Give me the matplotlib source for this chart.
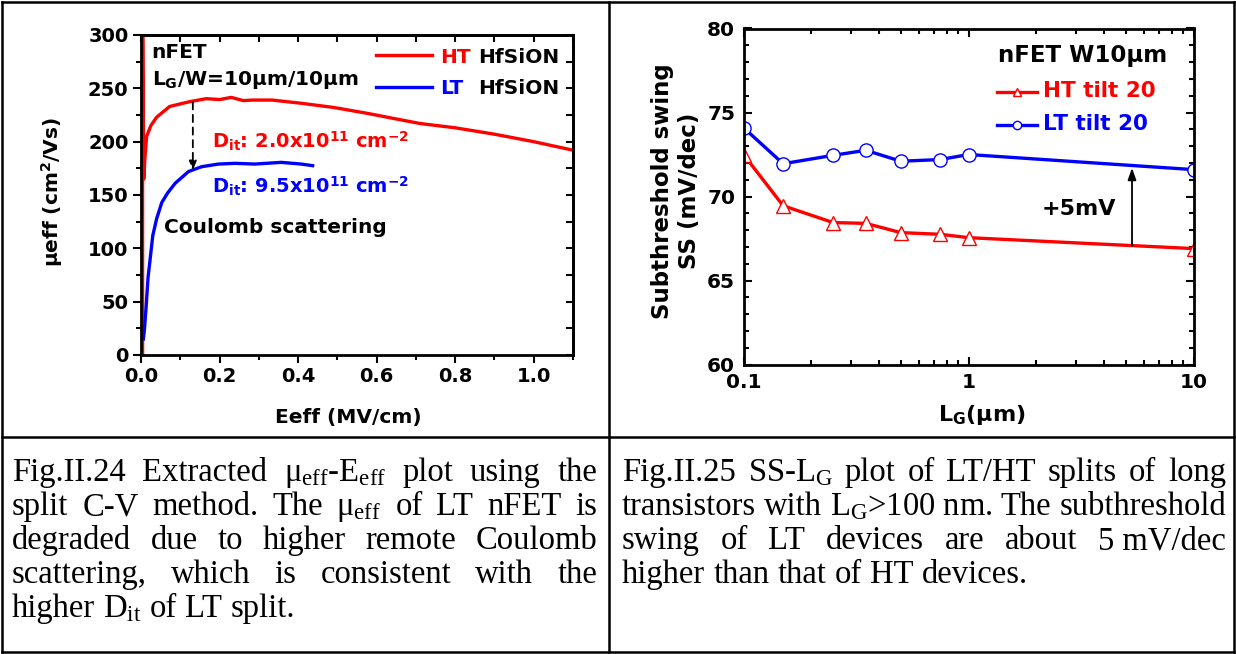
"""
plot.py - mobility / subthreshold swing figure pair with captions.
"""
import matplotlib
matplotlib.use('Agg')
import matplotlib.pyplot as plt
from matplotlib.lines import Line2D
from matplotlib.ticker import MultipleLocator, LogLocator, NullFormatter

W_PX, H_PX = 1236, 654

# --- Fig.II.24 : mobility vs effective field ---
HT_E = [0.004, 0.004, 0.007, 0.01, 0.0144, 0.025, 0.04, 0.073, 0.124, 0.166, 0.2,
        0.23, 0.26, 0.284, 0.334, 0.408, 0.492, 0.577, 0.661, 0.711, 0.8, 0.9, 1.0, 1.1]
HT_MU = [0, 330, 165, 185, 205, 215, 223, 233, 237.5, 240.3, 239.5,
         241.5, 238.5, 239, 239, 236, 232, 226.5, 220.5, 217, 213, 207, 200, 192]
LT_E = [0.006, 0.009, 0.013, 0.018, 0.023, 0.03, 0.04, 0.053, 0.068, 0.087, 0.121,
        0.154, 0.197, 0.239, 0.29, 0.357, 0.408, 0.437]
LT_MU = [15, 25, 45, 73, 89, 112, 128, 143, 152, 161, 172,
         176.5, 179, 179.7, 179, 180.6, 179, 177.5]

# --- Fig.II.25 : SS vs gate length ---
LG = [0.1, 0.15, 0.25, 0.35, 0.5, 0.75, 1, 10]
SS_HT = [72.5, 69.45, 68.45, 68.4, 67.85, 67.75, 67.55, 66.9]
SS_LT = [74.1, 71.95, 72.45, 72.75, 72.1, 72.2, 72.5, 71.6]

CAPTION_LEFT = [
    r"Fig.II.24 Extracted μ$_{\mathrm{eff}}$-E$_{\mathrm{eff}}$ plot using the",
    r"split C-V method. The μ$_{\mathrm{eff}}$ of LT nFET is",
    "degraded due to higher remote Coulomb",
    "scattering, which is consistent with the",
    r"higher D$_{\mathrm{it}}$ of LT split.",
]
CAPTION_RIGHT = [
    r"Fig.II.25 SS-L$_{\mathrm{G}}$ plot of LT/HT splits of long",
    r"transistors with L$_{\mathrm{G}}$>100~nm. The subthreshold",
    "swing of LT devices are about 5~mV/dec",
    "higher than that of HT devices.",
]

plt.rcParams['font.family'] = ['DejaVu Sans']
plt.rcParams['mathtext.fontset'] = 'custom'
plt.rcParams['mathtext.rm'] = 'Liberation Serif'
plt.rcParams['mathtext.it'] = 'Liberation Serif:italic'
plt.rcParams['mathtext.bf'] = 'DejaVu Sans:bold'
plt.rcParams['mathtext.sf'] = 'DejaVu Sans'


def fx(px):
    return px / W_PX


def fy(py):
    return 1 - py / H_PX


def justify_line(fig, line, x0, x1, y, last=False, **kw):
    """Place words of one caption line so they fill x0..x1 (pixels)."""
    words = [w.replace('~', ' ') for w in line.split(' ')]
    renderer = fig.canvas.get_renderer()
    texts = [fig.text(0, fy(y), w, va='baseline', ha='left', **kw) for w in words]
    widths = [t.get_window_extent(renderer).width for t in texts]
    if last:
        gap = kw.get('fontsize', 16) * 100 / 72 * 0.25
    else:
        gap = ((x1 - x0) - sum(widths)) / (len(words) - 1)
    x = x0
    for t, w in zip(texts, widths):
        t.set_x(fx(x))
        x += w + gap


fig = plt.figure(figsize=(W_PX / 100, H_PX / 100), dpi=100)
fig.patch.set_facecolor('white')

# ---------------- left plot ----------------
ax1 = fig.add_axes([fx(141), fy(355), 432 / W_PX, 320 / H_PX])
ax1.plot(HT_E, HT_MU, color='#ff0000', lw=2.4)
ax1.plot(LT_E, LT_MU, color='#0000ff', lw=2.4)
ax1.set_xlim(0, 1.1)
ax1.set_ylim(0, 300)
ax1.xaxis.set_major_locator(MultipleLocator(0.2))
ax1.xaxis.set_minor_locator(MultipleLocator(0.1))
ax1.yaxis.set_major_locator(MultipleLocator(50))
ax1.yaxis.set_minor_locator(MultipleLocator(25))
ax1.tick_params(which='both', direction='out', width=1.5, labelsize=14, pad=3)
ax1.tick_params(which='major', length=6)
ax1.tick_params(which='minor', length=3.5)
for lab in ax1.get_xticklabels() + ax1.get_yticklabels():
    lab.set_fontweight('bold')
for sp in ax1.spines.values():
    sp.set_linewidth(2)

top1 = ax1.secondary_xaxis('top')
top1.xaxis.set_major_locator(MultipleLocator(0.1))
top1.tick_params(direction='in', length=5, width=1.5, labeltop=False)
top1.spines['top'].set_linewidth(2)
right1 = ax1.secondary_yaxis('right')
right1.yaxis.set_major_locator(MultipleLocator(25))
right1.tick_params(direction='in', length=5, width=1.5, labelright=False)
right1.spines['right'].set_linewidth(2)

ax1.set_xlabel('Eeff (MV/cm)', fontsize=14.5, fontweight='bold')
ax1.xaxis.set_label_coords(0.479, -0.166)
ax1.set_ylabel(r'μeff (cm$^{\mathbf{2}}$/Vs)', fontsize=14.5, fontweight='bold')
ax1.yaxis.set_label_coords(-0.176, 0.51)

ax1.text(0.027, 278.4, 'nFET', fontsize=14.5, fontweight='bold', va='baseline')
ax1.text(0.027, 253, r'L$_{\mathbf{G}}$/W=10μm/10μm', fontsize=14.5,
         fontweight='bold', va='baseline')
ax1.text(0.182, 194, r'D$_{\mathbf{it}}$: 2.0x10$^{\mathbf{11}}$ cm$^{\mathbf{-2}}$',
         color='#ff0000', fontsize=14, fontweight='bold', va='baseline')
ax1.text(0.182, 152, r'D$_{\mathbf{it}}$: 9.5x10$^{\mathbf{11}}$ cm$^{\mathbf{-2}}$',
         color='#0000ff', fontsize=14, fontweight='bold', va='baseline')
ax1.text(0.058, 114.4, 'Coulomb scattering', fontsize=14.5, fontweight='bold',
         va='baseline')
ax1.annotate('', xy=(0.132, 173), xytext=(0.132, 237),
             arrowprops=dict(arrowstyle='-|>,head_width=0.22,head_length=0.55',
                             color='black', lw=1.3, ls=(0, (4, 3)),
                             shrinkA=0, shrinkB=0))

# legend drawn by hand (mixed colours in labels)
for yy, ty, col, name in [(0.9375, 0.9116, '#ff0000', 'HT'),
                          (0.8384, 0.8156, '#0000ff', 'LT')]:
    ax1.plot([0.544, 0.6736], [yy, yy], color=col, lw=2.4, transform=ax1.transAxes)
    ax1.text(0.692, ty, name, color=col, fontsize=14.5, fontweight='bold',
             transform=ax1.transAxes, va='baseline')
    ax1.text(0.780, ty, 'HfSiON', color='black', fontsize=14.5, fontweight='bold',
             transform=ax1.transAxes, va='baseline')

# ---------------- right plot ----------------
ax2 = fig.add_axes([fx(743.5), fy(364.5), 450 / W_PX, 336 / H_PX])
ax2.plot(LG, SS_HT, color='#ff0000', lw=2.4, marker='^', ms=10.5,
         mfc='white', mec='#ff0000', mew=1)
ax2.plot(LG, SS_LT, color='#0000ff', lw=2.4, marker='o', ms=9.5,
         mfc='white', mec='#0000ff', mew=1)
ax2.set_xscale('log')
ax2.set_xlim(0.1, 10)
ax2.set_ylim(60, 80)
ax2.set_xticks([0.1, 1, 10], labels=['0.1', '1', '10'])
ax2.xaxis.set_minor_locator(LogLocator(base=10, subs=range(2, 10)))
ax2.xaxis.set_minor_formatter(NullFormatter())
ax2.yaxis.set_major_locator(MultipleLocator(5))
ax2.yaxis.set_minor_locator(MultipleLocator(1))
ax2.tick_params(which='both', direction='in', top=True, right=True, width=1.5,
                labelsize=14.5, pad=6)
ax2.tick_params(which='major', length=6)
ax2.tick_params(which='minor', length=3.5)
for lab in ax2.get_xticklabels() + ax2.get_yticklabels():
    lab.set_fontweight('bold')
for sp in ax2.spines.values():
    sp.set_linewidth(2)

ax2.set_xlabel(r'L$_{\mathbf{G}}$(μm)', fontsize=16, fontweight='bold')
ax2.xaxis.set_label_coords(0.53, -0.115)
ax2.set_ylabel('Subthreshold swing\nSS (mV/dec)', fontsize=16.5, fontweight='bold')
ax2.yaxis.set_label_coords(-0.095, 0.516)

ax2.text(0.566, 0.901, 'nFET W10μm', fontsize=16.5, fontweight='bold',
         transform=ax2.transAxes, va='baseline')
for yy, ty, col, mk, name in [(0.8119, 0.797, '#ff0000', '^', 'HT tilt 20'),
                              (0.7128, 0.6979, '#0000ff', 'o', 'LT tilt 20')]:
    ax2.plot([0.5627, 0.607, 0.6516], [yy, yy, yy], color=col, lw=2.4, marker=mk,
             ms=6, mfc='white', mec=col, mew=1, markevery=[1],
             transform=ax2.transAxes)
    ax2.text(0.6662, ty, name, color=col, fontsize=15.5, fontweight='bold',
             transform=ax2.transAxes, va='baseline')

ax2.text(2.115, 68.9, '+5mV', fontsize=16, fontweight='bold', va='baseline')
ax2.annotate('', xy=(5.33, 71.7), xytext=(5.33, 67.05),
             arrowprops=dict(arrowstyle='-|>,head_width=0.25,head_length=0.7',
                             color='black', lw=1.3, shrinkA=0, shrinkB=0))

# ---------------- table frame ----------------
frame = [((2, 2), (1234, 2)), ((2, 652), (1234, 652)), ((2, 2), (2, 652)),
         ((1234, 2), (1234, 652)), ((609, 2), (609, 652)), ((2, 437), (1234, 437))]
for (xa, ya), (xb, yb) in frame:
    fig.add_artist(Line2D([fx(xa), fx(xb)], [fy(ya), fy(yb)], color='black',
                          lw=1.8, transform=fig.transFigure))

# ---------------- captions ----------------
cap_kw = dict(fontsize=23.5, family='Liberation Serif', color='black')
baselines = [481, 515, 549, 583, 617]
for i, line in enumerate(CAPTION_LEFT):
    justify_line(fig, line, 12, 597, baselines[i],
                 last=(i == len(CAPTION_LEFT) - 1), **cap_kw)
for i, line in enumerate(CAPTION_RIGHT):
    justify_line(fig, line, 622, 1226, baselines[i],
                 last=(i == len(CAPTION_RIGHT) - 1), **cap_kw)

fig.savefig('out.png', dpi=100)
